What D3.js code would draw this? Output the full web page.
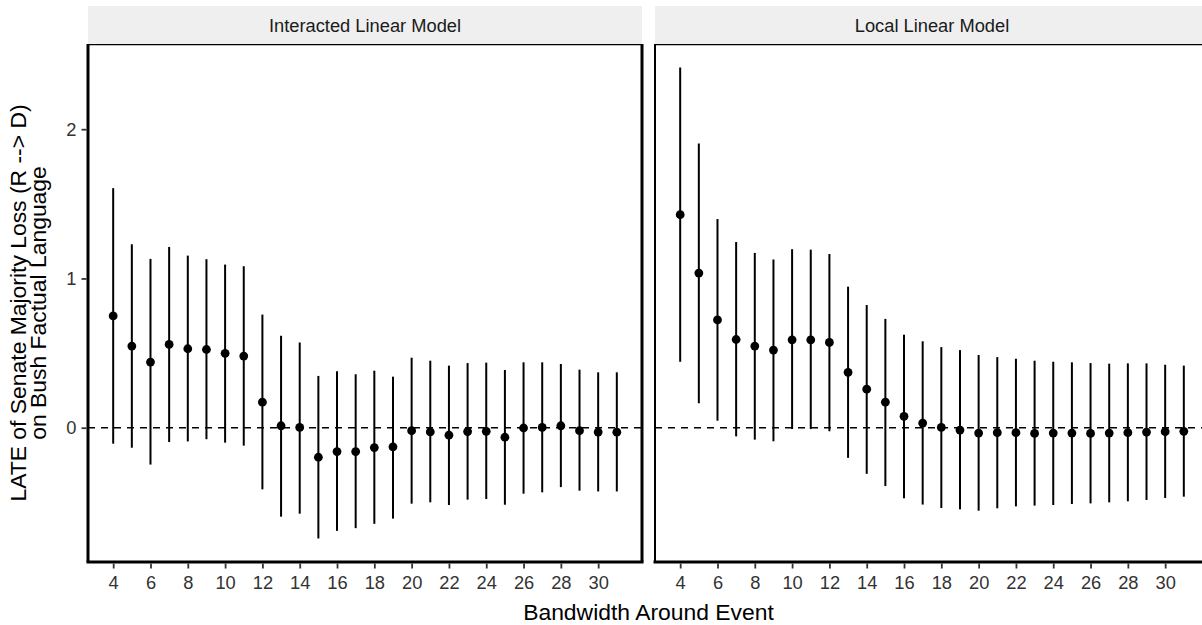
<!DOCTYPE html>
<html>
<head>
<meta charset="utf-8">
<script src="https://cdn.jsdelivr.net/npm/d3@7"></script>
<style>
  body { margin: 0; background: #fff; }
  text { font-family: "Liberation Sans", Arial, Helvetica, sans-serif; }
</style>
</head>
<body>
<svg id="chart" width="1202" height="625"></svg>
<script>
// bandwidth values on the x axis
const bandwidth = [4, 5, 6, 7, 8, 9, 10, 11, 12, 13, 14, 15, 16, 17, 18, 19, 20, 21, 22, 23, 24, 25, 26, 27, 28, 29, 30, 31]
const xTickValues = [4, 6, 8, 10, 12, 14, 16, 18, 20, 22, 24, 26, 28, 30]
const yTickValues = [0, 1, 2]
const panelTitles = ["Interacted Linear Model", "Local Linear Model"]

// interacted linear model: estimate + interval
const intEst = [0.749, 0.547, 0.44, 0.558, 0.529, 0.524, 0.498, 0.48, 0.171, 0.013, 0.002, -0.198, -0.16, -0.16, -0.133, -0.128, -0.02, -0.028, -0.05, -0.026, -0.024, -0.064, -0.002, 0.002, 0.013, -0.02, -0.029, -0.03]
const intLo = [-0.107, -0.134, -0.247, -0.096, -0.092, -0.077, -0.1, -0.12, -0.413, -0.596, -0.576, -0.742, -0.691, -0.673, -0.644, -0.609, -0.509, -0.5, -0.518, -0.482, -0.478, -0.516, -0.442, -0.433, -0.398, -0.422, -0.427, -0.427]
const intHi = [1.605, 1.229, 1.131, 1.211, 1.153, 1.129, 1.093, 1.082, 0.758, 0.616, 0.571, 0.347, 0.378, 0.358, 0.382, 0.342, 0.469, 0.449, 0.416, 0.433, 0.436, 0.387, 0.438, 0.438, 0.427, 0.389, 0.371, 0.371]

// local linear model
const locEst = [1.427, 1.036, 0.722, 0.591, 0.547, 0.52, 0.589, 0.589, 0.571, 0.371, 0.258, 0.171, 0.076, 0.031, 0.002, -0.016, -0.036, -0.033, -0.033, -0.038, -0.036, -0.036, -0.038, -0.036, -0.033, -0.029, -0.027, -0.024]
const locLo = [0.442, 0.164, 0.047, -0.058, -0.08, -0.091, -0.009, -0.009, -0.024, -0.202, -0.309, -0.391, -0.473, -0.515, -0.538, -0.547, -0.556, -0.54, -0.527, -0.522, -0.518, -0.511, -0.507, -0.5, -0.493, -0.484, -0.471, -0.462]
const locHi = [2.413, 1.904, 1.398, 1.244, 1.171, 1.127, 1.196, 1.193, 1.164, 0.945, 0.822, 0.729, 0.623, 0.579, 0.54, 0.52, 0.487, 0.473, 0.462, 0.449, 0.442, 0.438, 0.433, 0.429, 0.431, 0.431, 0.422, 0.416]

const panels = [
  {title: panelTitles[0], est: intEst, lo: intLo, hi: intHi, left: 88},
  {title: panelTitles[1], est: locEst, lo: locLo, hi: locHi, left: 655}
]

const svg = d3.select("#chart")
const panelW = 554, panelTop = 44, panelBottom = 562
const stripTop = 6

// ggplot style 5% expansion
function expand(ext) {
  const d = (ext[1] - ext[0]) * 0.05
  return [ext[0] - d, ext[1] + d]
}
const allVals = [].concat(intLo, intHi, locLo, locHi)
const y = d3.scaleLinear().domain(expand(d3.extent(allVals))).range([panelBottom, panelTop])

panels.forEach(function(p, pi) {
  const x = d3.scaleLinear().domain(expand(d3.extent(bandwidth))).range([p.left, p.left + panelW])
  const g = svg.append("g").attr("class", "panel")

  // strip
  g.append("rect").attr("x", p.left).attr("y", stripTop).attr("width", panelW).attr("height", panelTop - stripTop)
    .attr("fill", "#efefef")
  g.append("text").attr("x", p.left + panelW / 2).attr("y", 31.5).attr("text-anchor", "middle")
    .attr("font-size", 18.3).attr("fill", "#1a1a1a").text(p.title)

  // zero reference line
  g.append("line").attr("x1", p.left).attr("x2", p.left + panelW).attr("y1", y(0)).attr("y2", y(0))
    .attr("stroke", "#000").attr("stroke-width", 1.5).attr("stroke-dasharray", "7,6")

  const rows = bandwidth.map((b, i) => ({b: b, est: p.est[i], lo: p.lo[i], hi: p.hi[i]}))

  g.append("g").selectAll("line").data(rows).enter().append("line")
    .attr("x1", d => x(d.b)).attr("x2", d => x(d.b))
    .attr("y1", d => y(d.lo)).attr("y2", d => y(d.hi))
    .attr("stroke", "#000").attr("stroke-width", 2)

  g.append("g").selectAll("circle").data(rows).enter().append("circle")
    .attr("cx", d => x(d.b)).attr("cy", d => y(d.est)).attr("r", 4.4).attr("fill", "#000")

  // panel border: thin top, thicker axis sides
  g.append("line").attr("x1", p.left).attr("x2", p.left + panelW).attr("y1", panelTop + 0.6).attr("y2", panelTop + 0.6)
    .attr("stroke", "#000").attr("stroke-width", 1.3)
  g.append("line").attr("x1", p.left - 1.5).attr("x2", p.left + panelW + 1.5).attr("y1", panelBottom).attr("y2", panelBottom)
    .attr("stroke", "#000").attr("stroke-width", 3)
  g.append("line").attr("x1", p.left).attr("x2", p.left).attr("y1", panelTop).attr("y2", panelBottom)
    .attr("stroke", "#000").attr("stroke-width", pi == 0 ? 3 : 2)
  g.append("line").attr("x1", p.left + panelW).attr("x2", p.left + panelW).attr("y1", panelTop).attr("y2", panelBottom)
    .attr("stroke", "#000").attr("stroke-width", 3)

  // x axis
  const xa = g.append("g").attr("transform", `translate(0,${panelBottom + 1.5})`)
    .call(d3.axisBottom(x).tickValues(xTickValues).tickSize(5).tickSizeOuter(0).tickPadding(7.5))
  xa.select(".domain").remove()
  xa.selectAll(".tick line").attr("stroke", "#333").attr("stroke-width", 1.8)
  xa.selectAll(".tick text").attr("font-size", 18.3).attr("fill", "#333")
    .attr("font-family", '"Liberation Sans", Arial, sans-serif')

  if (pi == 0) {
    const ya = g.append("g").attr("transform", `translate(${p.left - 1.5},0)`)
      .call(d3.axisLeft(y).tickValues(yTickValues).tickSize(5).tickSizeOuter(0).tickPadding(5).tickFormat(d3.format("d")))
    ya.select(".domain").remove()
    ya.selectAll(".tick line").attr("stroke", "#333").attr("stroke-width", 1.8)
    ya.selectAll(".tick text").attr("font-size", 18.3).attr("fill", "#333")
      .attr("font-family", '"Liberation Sans", Arial, sans-serif')
  }
})

// axis titles
svg.append("text").attr("x", (88 + 655 + panelW) / 2).attr("y", 620).attr("text-anchor", "middle")
  .attr("font-size", 22.9).attr("fill", "#000").text("Bandwidth Around Event")

const ymid = (panelTop + panelBottom) / 2
svg.append("text").attr("transform", `translate(25.5,${ymid}) rotate(-90)`).attr("text-anchor", "middle")
  .attr("font-size", 22.9).attr("fill", "#000").text("LATE of Senate Majority Loss (R --> D)")
svg.append("text").attr("transform", `translate(45.5,${ymid}) rotate(-90)`).attr("text-anchor", "middle")
  .attr("font-size", 22.9).attr("fill", "#000").text("on Bush Factual Language")
</script>
</body>
</html>
